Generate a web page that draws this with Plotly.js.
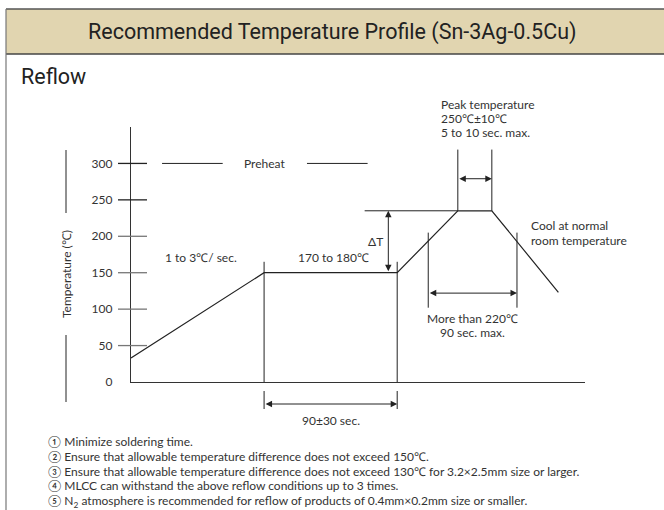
<!DOCTYPE html>
<html>
<head>
<meta charset="utf-8">
<script src="https://cdn.plot.ly/plotly-3.0.1.min.js"></script>
<style>html,body{margin:0;padding:0;background:#fff;} #chart{width:664px;height:510px;}</style>
</head>
<body>
<div id="chart"></div>
<script>
// ---- data ----
const profileTime = [0, 90, 180, 221, 244, 289];      // seconds
const profileTemp = [33, 150, 150, 235, 235, 123];    // deg C
const yTicks = [0, 50, 100, 150, 200, 250, 300];
const yTickLabels = ["0", "50", "100", "150", "200", "250", "300"];
const preheatSegments = [[21, 62], [119, 160]];       // seconds, at 300 C
const over220Times = [201, 261];                       // seconds
const over220Temps = [102, 205];                       // vertical extent of markers
const deltaTx = 174;                                   // seconds
const deltaTRefStart = 158;                            // seconds
const peakMarkTop = 319;                               // C
const peakArrowTemp = 279;                             // C
const over220ArrowTemp = 122;                          // C
const titleText = "Recommended Temperature Profile (Sn-3Ag-0.5Cu)";
const subTitle = "Reflow";
const notes = [
  "① Minimize soldering time.",
  "② Ensure that allowable temperature difference does not exceed 150℃.",
  "③ Ensure that allowable temperature difference does not exceed 130℃ for 3.2×2.5mm size or larger.",
  "④ MLCC can withstand the above reflow conditions up to 3 times.",
  "⑤ N<sub>2</sub> atmosphere is recommended for reflow of products of 0.4mm×0.2mm size or smaller."
];

// ---- layout geometry ----
const W = 664, H = 510;
const M = {l: 131, r: 79, t: 127, b: 128};
const PW = W - M.l - M.r, PH = H - M.t - M.b;
const px2x = px => (px - M.l) / PW;
const py2y = py => (H - M.b - py) / PH;

const bodyFont = {family: "Lato, 'Open Sans', sans-serif", size: 12, color: "#333"};
const headFont = {family: "Roboto, 'Liberation Sans Narrow', sans-serif", size: 21.5, color: "#222", weight: 400};
const lineCol = "#222";

const shapes = [];
const ann = [];
function text(o) { ann.push(Object.assign({showarrow: false, xanchor: "center", yanchor: "middle", font: bodyFont}, o)); }
function dimArrow(o) {
  ann.push(Object.assign({text: "", showarrow: true, arrowhead: 2, startarrowhead: 2, arrowside: "end+start",
    arrowsize: 1.3, arrowwidth: 1, arrowcolor: lineCol, standoff: 0, startstandoff: 0}, o));
}

// frame and header band
shapes.push({type: "rect", xref: "paper", yref: "paper", x0: px2x(6), x1: px2x(666), y0: py2y(54), y1: py2y(9),
  fillcolor: "#e1d5b0", line: {width: 0}, layer: "below"});
shapes.push({type: "line", xref: "paper", yref: "paper", x0: px2x(6), x1: px2x(666), y0: py2y(9), y1: py2y(9), line: {color: "#555", width: 1.3}});
shapes.push({type: "line", xref: "paper", yref: "paper", x0: px2x(6), x1: px2x(666), y0: py2y(54), y1: py2y(54), line: {color: "#444", width: 1.3}});
shapes.push({type: "line", xref: "paper", yref: "paper", x0: px2x(6), x1: px2x(6), y0: py2y(9), y1: py2y(512), line: {color: "#777", width: 1.2}});

text({xref: "paper", yref: "paper", x: px2x(332), y: py2y(32), text: titleText, font: headFont});
text({xref: "paper", yref: "paper", x: px2x(19), y: py2y(76), text: subTitle, font: headFont, xanchor: "left"});

// y axis title with bracket lines
text({xref: "paper", yref: "paper", x: px2x(66), y: py2y(274), text: "Temperature (℃)", textangle: -90});
shapes.push({type: "line", xref: "paper", yref: "paper", x0: px2x(66), x1: px2x(66), y0: py2y(150), y1: py2y(213), line: {color: lineCol, width: 1}});
shapes.push({type: "line", xref: "paper", yref: "paper", x0: px2x(66), x1: px2x(66), y0: py2y(335), y1: py2y(402), line: {color: lineCol, width: 1}});

// tick marks crossing the axis
yTicks.filter(v => v > 0).forEach(v => {
  shapes.push({type: "line", xref: "paper", yref: "y", x0: px2x(118), x1: px2x(147), y0: v, y1: v,
    line: {color: v >= 250 ? "#222" : "#777", width: 1.3}});
});

// preheat
preheatSegments.forEach(s => shapes.push({type: "line", xref: "x", yref: "y", x0: s[0], x1: s[1], y0: 300, y1: 300, line: {color: lineCol, width: 1}}));
text({xref: "x", yref: "y", x: (preheatSegments[0][1] + preheatSegments[1][0]) / 2, y: 300, text: "Preheat"});

// soak verticals
[profileTime[1], profileTime[2]].forEach(t => {
  shapes.push({type: "line", xref: "x", yref: "y", x0: t, x1: t, y0: 0, y1: 165, line: {color: lineCol, width: 1}});
  shapes.push({type: "line", xref: "x", yref: "paper", x0: t, x1: t, y0: py2y(391), y1: py2y(409), line: {color: lineCol, width: 1}});
});
dimArrow({xref: "x", yref: "paper", x: profileTime[2], y: py2y(404), axref: "x", ax: profileTime[1], ayref: "pixel", ay: 0});
text({xref: "x", yref: "paper", x: (profileTime[1] + profileTime[2]) / 2, y: py2y(420), text: "90±30 sec."});

text({xref: "x", yref: "y", x: 47, y: 171, text: "1 to 3℃/ sec."});
text({xref: "x", yref: "y", x: 137, y: 171, text: "170 to 180℃"});

// delta T
shapes.push({type: "line", xref: "x", yref: "y", x0: deltaTRefStart, x1: profileTime[3], y0: profileTemp[3], y1: profileTemp[3], line: {color: lineCol, width: 1}});
dimArrow({xref: "x", yref: "y", x: deltaTx, y: profileTemp[3], axref: "x", ax: deltaTx, ayref: "y", ay: profileTemp[2]});
text({xref: "x", yref: "y", x: deltaTx - 2, y: 193, text: "ΔT", xanchor: "right"});

// peak
[profileTime[3], profileTime[4]].forEach(t => shapes.push({type: "line", xref: "x", yref: "y", x0: t, x1: t, y0: profileTemp[3], y1: peakMarkTop, line: {color: lineCol, width: 1}}));
dimArrow({xref: "x", yref: "y", x: profileTime[4], y: peakArrowTemp, axref: "x", ax: profileTime[3], ayref: "y", ay: peakArrowTemp});
["Peak temperature", "250℃±10℃", "5 to 10 sec. max."].forEach((t, i) => {
  text({xref: "x", yref: "paper", x: 208, y: py2y(104 + 14.3 * i), text: t, xanchor: "left"});
});

// cool
["Cool at normal", "room temperature"].forEach((t, i) => {
  text({xref: "x", yref: "paper", x: 269, y: py2y(225 + 15 * i), text: t, xanchor: "left"});
});

// over 220
over220Times.forEach(t => shapes.push({type: "line", xref: "x", yref: "y", x0: t, x1: t, y0: over220Temps[0], y1: over220Temps[1], line: {color: lineCol, width: 1}}));
dimArrow({xref: "x", yref: "y", x: over220Times[1], y: over220ArrowTemp, axref: "x", ax: over220Times[0], ayref: "y", ay: over220ArrowTemp});
["More than 220℃", "90 sec. max."].forEach((t, i) => {
  text({xref: "x", yref: "paper", x: (over220Times[0] + over220Times[1]) / 2, y: py2y(318 + 14 * i), text: t});
});

// notes
notes.forEach((t, i) => {
  text({xref: "paper", yref: "paper", x: px2x(46), y: py2y(441 + 15 * i), text: t, xanchor: "left"});
});

const trace = {x: profileTime, y: profileTemp, type: "scatter", mode: "lines", line: {color: lineCol, width: 1.2}, hoverinfo: "skip", cliponaxis: false};

const layout = {
  width: W, height: H, margin: M, showlegend: false,
  paper_bgcolor: "#fff", plot_bgcolor: "rgba(0,0,0,0)",
  xaxis: {range: [0, 307], showline: true, linecolor: "#333", linewidth: 1.2, showgrid: false, zeroline: false, showticklabels: false, ticks: "", fixedrange: true},
  yaxis: {range: [0, 350], showline: true, linecolor: "#333", linewidth: 1.2, showgrid: false, zeroline: false,
    tickvals: yTicks, ticktext: yTickLabels, ticks: "outside", ticklen: 15, tickcolor: "rgba(0,0,0,0)",
    tickfont: {family: "Lato, 'Open Sans', sans-serif", size: 12, color: "#333"}, fixedrange: true},
  shapes: shapes, annotations: ann
};

Plotly.newPlot("chart", [trace], layout, {staticPlot: true, displayModeBar: false});
</script>
</body>
</html>
